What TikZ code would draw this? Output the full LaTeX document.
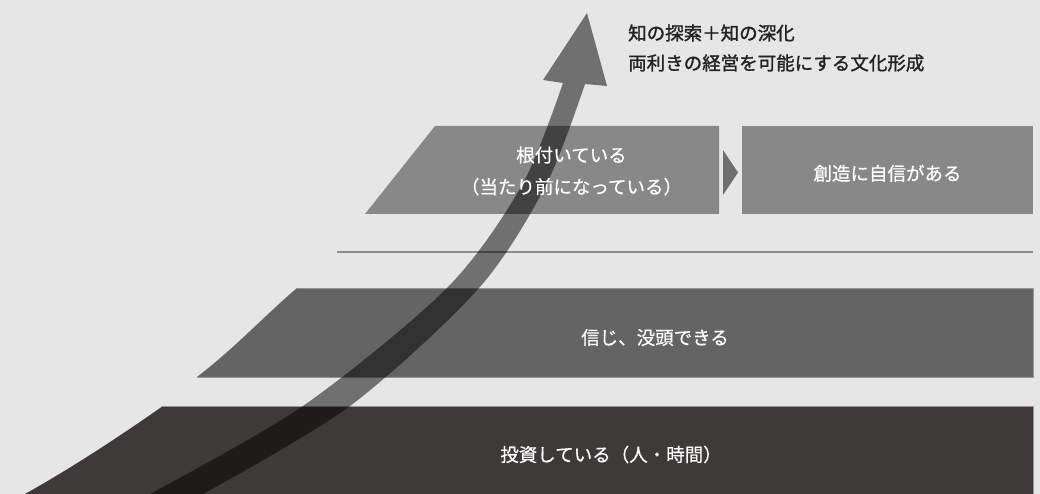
\documentclass[tikz,border=0pt]{standalone}
\usepackage{fontspec}
\newfontfamily\jp[FakeBold=0.5]{Noto Sans CJK JP}
\newfontfamily\jph[FakeBold=1.4]{Noto Sans CJK JP}
\definecolor{bg}{RGB}{230,230,230}
\definecolor{topgray}{RGB}{136,136,136}
\definecolor{midgray}{RGB}{100,100,100}
\definecolor{botgray}{RGB}{62,58,57}
\definecolor{trigray}{RGB}{111,111,111}
\definecolor{rulegray}{RGB}{140,140,140}
\definecolor{headcol}{RGB}{34,34,34}
\definecolor{edgegray}{RGB}{150,150,150}
\tikzset{
  lbl/.style={inner sep=0pt, text=white, font=\jp\fontsize{18.5}{22}\selectfont},
  hd/.style={inner sep=0pt, text=headcol, font=\jph\fontsize{18.5}{22}\selectfont},
}
\begin{document}
\begin{tikzpicture}[x=1pt,y=-1pt]
\useasboundingbox (0,0) rectangle (1040,494);
\fill[bg] (0,0) rectangle (1040,494);
% bottom band
\fill[botgray] (163,406) -- (1033,406) -- (1033,494) -- (25,494) .. controls (75,466) and (123,434) .. (163,406) -- cycle;
\draw[edgegray, line width=0.6pt] (163,406) -- (1033,406) -- (1033,494);
% middle band
\fill[midgray] (297,288) -- (1033,288) -- (1033,377) -- (197,377) .. controls (237,346) and (262,318) .. (297,288) -- cycle;
\draw[edgegray, line width=0.6pt] (297,288) -- (1033,288) -- (1033,377) -- (197,377);
% divider
\draw[rulegray, line width=2pt] (337,252) -- (1033,252);
% top shapes
\fill[topgray] (435,126) -- (719,126) -- (719,214) -- (365,214) -- cycle;
\fill[topgray] (742,126) rectangle (1033,214);
\fill[trigray] (723,150) -- (738,172.5) -- (723,195) -- cycle;
% arrow
\fill[black, fill opacity=0.51]
  plot[smooth] coordinates {(150,494) (303,406) (447,288) (522,185) (563,83)}
  -- (543,80) -- (587,13) -- (607,86) -- (585,84)
  -- plot[smooth] coordinates {(585,84) (546,185) (479,288) (350,406) (203,494)}
  -- cycle;
% texts
\node[lbl] (t1) at (571.5,155) {根付いている};
\node[lbl] (t2) at (571.5,186.7) {（当たり前になっている）};
\node[lbl] (t3) at (887.5,173.3) {創造に自信がある};
\node[lbl] (t4) at (655,337.5) {信じ、没頭できる};
\node[lbl] (t5) at (611,454.5) {投資している（人・時間）};
\node[hd, anchor=west] (h1) at (628,33) {知の探索＋知の深化};
\node[hd, anchor=west] (h2) at (628,63) {両利きの経営を可能にする文化形成};
\end{tikzpicture}
\end{document}
